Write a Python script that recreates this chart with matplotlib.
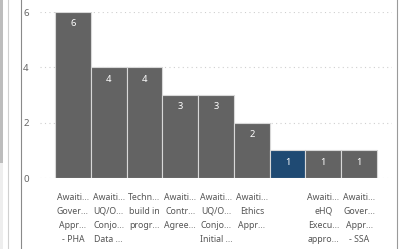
import matplotlib.pyplot as plt
from matplotlib.patches import Rectangle
from matplotlib.lines import Line2D

# data
categories = [
    "Awaiti...\nGover...\nAppr...\n- PHA",
    "Awaiti...\nUQ/O...\nConjo...\nData ...",
    "Techn...\nbuild in\nprogr...",
    "Awaiti...\nContr...\nAgree...",
    "Awaiti...\nUQ/O...\nConjo...\nInitial ...",
    "Awaiti...\nEthics\nAppr...",
    "",
    "Awaiti...\neHQ\nExecu...\nappro...",
    "Awaiti...\nGover...\nAppr...\n- SSA",
]
counts = [6, 4, 4, 3, 3, 2, 1, 1, 1]
highlight = 6  # the blue one

W, H = 401, 249
fig = plt.figure(figsize=(W / 100, H / 100), dpi=100)
plt.rcParams['font.family'] = ['Noto Sans', 'DejaVu Sans']

ax = fig.add_axes([40 / W, (H - 178) / H, (392 - 40) / W, (178 - 12) / H])

colors = ["#1f4a73" if i == highlight else "#636363" for i in range(len(counts))]
x = list(range(len(counts)))
ax.bar(x, counts, width=1.0, color=colors, edgecolor="#d8d8d8", linewidth=0.8, zorder=2)

for xi, v in zip(x, counts):
    ax.text(xi, v - 0.43, str(v), ha="center", va="center", color="white", fontsize=6.8, zorder=3)

ax.set_xlim(-0.92, 8.92)
ax.set_ylim(0, 6)
ax.set_yticks([0, 2, 4, 6])
ax.yaxis.grid(True, linestyle=(0, (1, 3)), color="#cfcfcf", linewidth=0.8)
ax.set_axisbelow(True)
ax.tick_params(axis="y", length=0, labelsize=7, labelcolor="#666666", pad=8)
ax.set_xticks([])
for s in ax.spines.values():
    s.set_visible(False)

# category labels under the bars
for xi, lab in zip(x, categories):
    ax.text(xi, -0.09, lab, transform=ax.get_xaxis_transform(), ha="center", va="top",
            fontsize=6.3, color="#555555", linespacing=1.7)

# frame bits around the visual
fig.add_artist(Rectangle((0, (H - 163) / H), 3 / W, 163 / H, transform=fig.transFigure,
                         color="#bdbdbd", lw=0))
fig.add_artist(Rectangle((0, 0), 3 / W, (H - 163) / H, transform=fig.transFigure,
                         color="#eeeeee", lw=0))
fig.add_artist(Line2D([7.5 / W, 7.5 / W], [0, 1], transform=fig.transFigure, color="#d0d0d0", lw=0.8))
fig.add_artist(Line2D([20.5 / W, 20.5 / W], [0, 1], transform=fig.transFigure, color="#8a8a8a", lw=0.8))
fig.add_artist(Line2D([396.5 / W, 396.5 / W], [0, 1], transform=fig.transFigure, color="#9a9a9a", lw=0.8))

fig.savefig("out.png", dpi=100)
